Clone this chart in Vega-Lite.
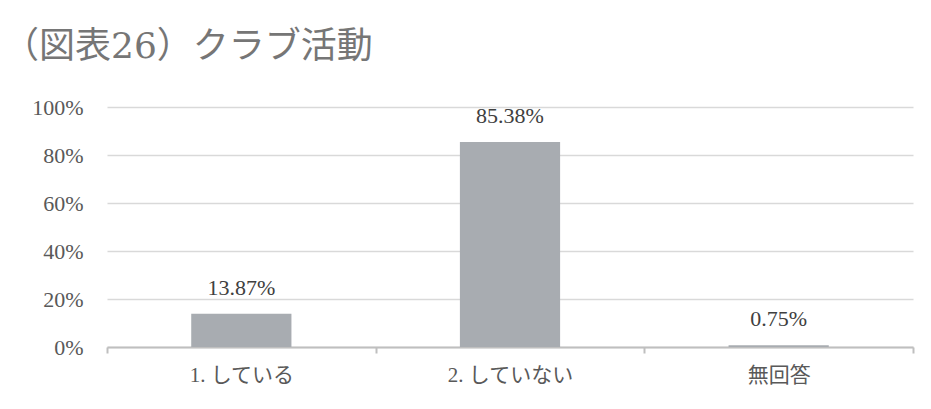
{
  "$schema": "https://vega.github.io/schema/vega-lite/v6.json",
  "width": 806,
  "height": 240,
  "autosize": {"type": "none"},
  "padding": {"left": 107, "top": 107, "right": 18, "bottom": 62},
  "background": "white",
  "title": {
    "text": "（図表26）クラブ活動",
    "anchor": "start",
    "frame": "group",
    "dx": -104,
    "offset": 30,
    "fontSize": 36,
    "fontWeight": "normal",
    "color": "#767676",
    "font": "DejaVu Serif, Noto Sans CJK JP"
  },
  "data": {
    "values": [
      {"category": "1. している", "value": 0.1387},
      {"category": "2. していない", "value": 0.8538},
      {"category": "無回答", "value": 0.0075}
    ]
  },
  "config": {
    "view": {"stroke": null},
    "font": "DejaVu Serif, Noto Sans CJK JP"
  },
  "encoding": {
    "x": {
      "field": "category",
      "type": "nominal",
      "sort": null,
      "scale": {"paddingInner": 0, "paddingOuter": 0},
      "axis": {
        "title": null,
        "labelAngle": 0,
        "labelFontSize": 21,
        "labelColor": "#595959",
        "labelFont": "Liberation Serif, DejaVu Serif, Noto Sans CJK JP",
        "labelPadding": 11,
        "domainColor": "#bfbfbf",
        "domainWidth": 2,
        "tickColor": "#bfbfbf",
        "tickWidth": 2,
        "tickSize": 6,
        "tickBand": "extent"
      }
    },
    "y": {
      "field": "value",
      "type": "quantitative",
      "scale": {"domain": [0, 1], "nice": false},
      "axis": {
        "title": null,
        "format": "%",
        "values": [0, 0.2, 0.4, 0.6, 0.8, 1],
        "labelFontSize": 22,
        "labelColor": "#595959",
        "labelFont": "Liberation Serif, DejaVu Serif, serif",
        "labelPadding": 24,
        "domain": false,
        "ticks": false,
        "gridColor": "#d9d9d9",
        "gridWidth": 1.5
      }
    }
  },
  "layer": [
    {
      "mark": {"type": "bar", "color": "#a8acb1", "width": {"band": 0.373}}
    },
    {
      "mark": {
        "type": "text",
        "baseline": "alphabetic",
        "dy": -19,
        "fontSize": 22,
        "color": "#404040",
        "font": "Liberation Serif, DejaVu Serif, serif"
      },
      "encoding": {
        "text": {"field": "value", "type": "quantitative", "format": ".2%"}
      }
    }
  ]
}
